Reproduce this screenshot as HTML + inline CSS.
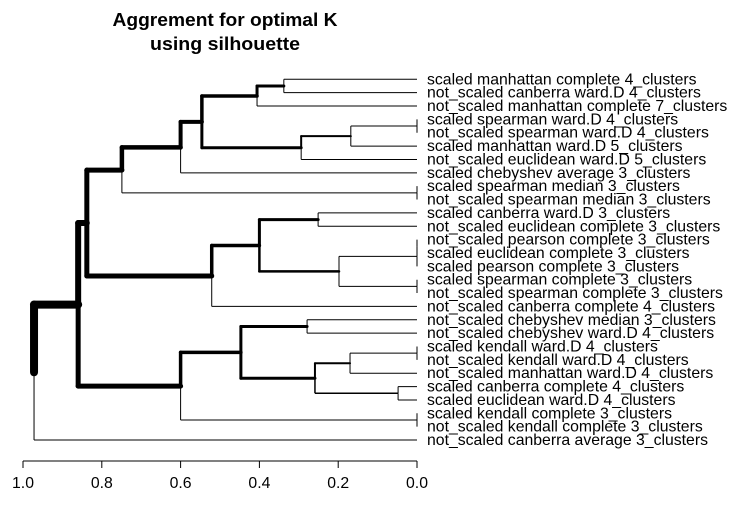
<!DOCTYPE html>
<html><head><meta charset="utf-8"><style>
body{margin:0;background:#fff}
svg{display:block;font-family:"Liberation Sans",Arial,sans-serif}
</style></head><body>
<svg id="chart" width="740" height="519" viewBox="0 0 740 519">
<text x="225" y="26" text-anchor="middle" font-weight="bold" font-size="18" textLength="225" lengthAdjust="spacingAndGlyphs">Aggrement for optimal K</text>
<text x="225" y="50" text-anchor="middle" font-weight="bold" font-size="18" textLength="150" lengthAdjust="spacingAndGlyphs">using silhouette</text>
<g id="tree"></g>
<g id="labels"></g>
<g id="axis"></g>
</svg>
<script>
const leafLabels = [
"scaled manhattan complete 4_clusters","not_scaled canberra ward.D 4_clusters","not_scaled manhattan complete 7_clusters",
"scaled spearman ward.D 4_clusters","not_scaled spearman ward.D 4_clusters","scaled manhattan ward.D 5_clusters",
"not_scaled euclidean ward.D 5_clusters","scaled chebyshev average 3_clusters","scaled spearman median 3_clusters",
"not_scaled spearman median 3_clusters","scaled canberra ward.D 3_clusters","not_scaled euclidean complete 3_clusters",
"not_scaled pearson complete 3_clusters","scaled euclidean complete 3_clusters","scaled pearson complete 3_clusters",
"scaled spearman complete 3_clusters","not_scaled spearman complete 3_clusters","not_scaled canberra complete 4_clusters",
"not_scaled chebyshev median 3_clusters","not_scaled chebyshev ward.D 4_clusters","scaled kendall ward.D 4_clusters",
"not_scaled kendall ward.D 4_clusters","not_scaled manhattan ward.D 4_clusters","scaled canberra complete 4_clusters",
"scaled euclidean ward.D 4_clusters","scaled kendall complete 3_clusters","not_scaled kendall complete 3_clusters",
"not_scaled canberra average 3_clusters"];
// merges: "L#" = leaf, "N#" = earlier merge
const mergeLeft  = ["L0","N0","L3","N2","N3","N1","N5","L8","N6","L10","L12","N10","L15","N11","N9","N14","N8","L18","L20","N18","L23","N19","N17","L25","N22","N16","N25"];
const mergeRight = ["L1","L2","L4","L5","L6","N4","L7","L9","N7","L11","L13","L14","L16","N12","N13","L17","N15","L19","L21","L22","L24","N20","N21","L26","N23","N24","L27"];
const mergeHeight = [0.338,0.406,0,0.168,0.294,0.546,0.60,0,0.749,0.251,0,0,0,0.198,0.40,0.521,0.838,0.279,0,0.17,0.048,0.259,0.447,0,0.60,0.86,0.972];
const axisTicks = [1.0,0.8,0.6,0.4,0.2,0.0];
const tickLabels = ["1.0","0.8","0.6","0.4","0.2","0.0"];
// edge widths (style)
const edgeW = [3,3.5,1,2,3,4,4.5,1,5,3,1,1,1,2.5,3.5,5,6,3,1,2,1.5,3,3.5,1,5,8,1];

const NS="http://www.w3.org/2000/svg";
const xs = h => 417 - h*394;
const leafY = i => 79.3 + i*13.36;
function pos(ref){
  const k=+ref.slice(1);
  if(ref[0]==="L") return {x:xs(0), y:leafY(k), w:1};
  return {x:xs(mergeHeight[k]), y:nodeY[k], w:edgeW[k]};
}
const nodeY=[];
for(let i=0;i<mergeHeight.length;i++){
  nodeY[i]=(pos(mergeLeft[i]).y+pos(mergeRight[i]).y)/2;
}
const tree=document.getElementById('tree');
function line(x1,y1,x2,y2,w,name){
  const l=document.createElementNS(NS,'line');
  l.setAttribute('x1',x1);l.setAttribute('y1',y1);l.setAttribute('x2',x2);l.setAttribute('y2',y2);
  l.setAttribute('stroke','#000');l.setAttribute('stroke-width',w);
  l.setAttribute('stroke-linecap',w>1.5?'round':'butt');
  
  
  return l;
}
const segs=[];
for(let i=0;i<mergeHeight.length;i++){
  const px=xs(mergeHeight[i]), py=nodeY[i];
  [mergeLeft[i],mergeRight[i]].forEach(c=>{
    const p=pos(c);
    segs.push([px,py,px,p.y,p.w]);
    segs.push([px,p.y,p.x,p.y,p.w]);
  });
}
segs.sort((a,b)=>a[4]-b[4]).forEach(s=>tree.appendChild(line(s[0],s[1],s[2],s[3],s[4],'branch')));

const lab=document.getElementById('labels');
leafLabels.forEach((t,i)=>{
  const e=document.createElementNS(NS,'text');
  e.setAttribute('x',427);e.setAttribute('y',leafY(i)+5);
  e.setAttribute('font-size','15.8');
  
  
  e.textContent=t;lab.appendChild(e);
});
const ax=document.getElementById('axis');
ax.appendChild(line(xs(1),461,xs(0),461,1,'axis-line'));
axisTicks.forEach((v,i)=>{
  ax.appendChild(line(xs(v),461,xs(v),468,1,'axis-tick'));
  const e=document.createElementNS(NS,'text');
  e.setAttribute('x',xs(v));e.setAttribute('y',488);
  e.setAttribute('font-size','15.8');e.setAttribute('text-anchor','middle');
  
  
  e.textContent=tickLabels[i];ax.appendChild(e);
});
</script>
</body></html>
